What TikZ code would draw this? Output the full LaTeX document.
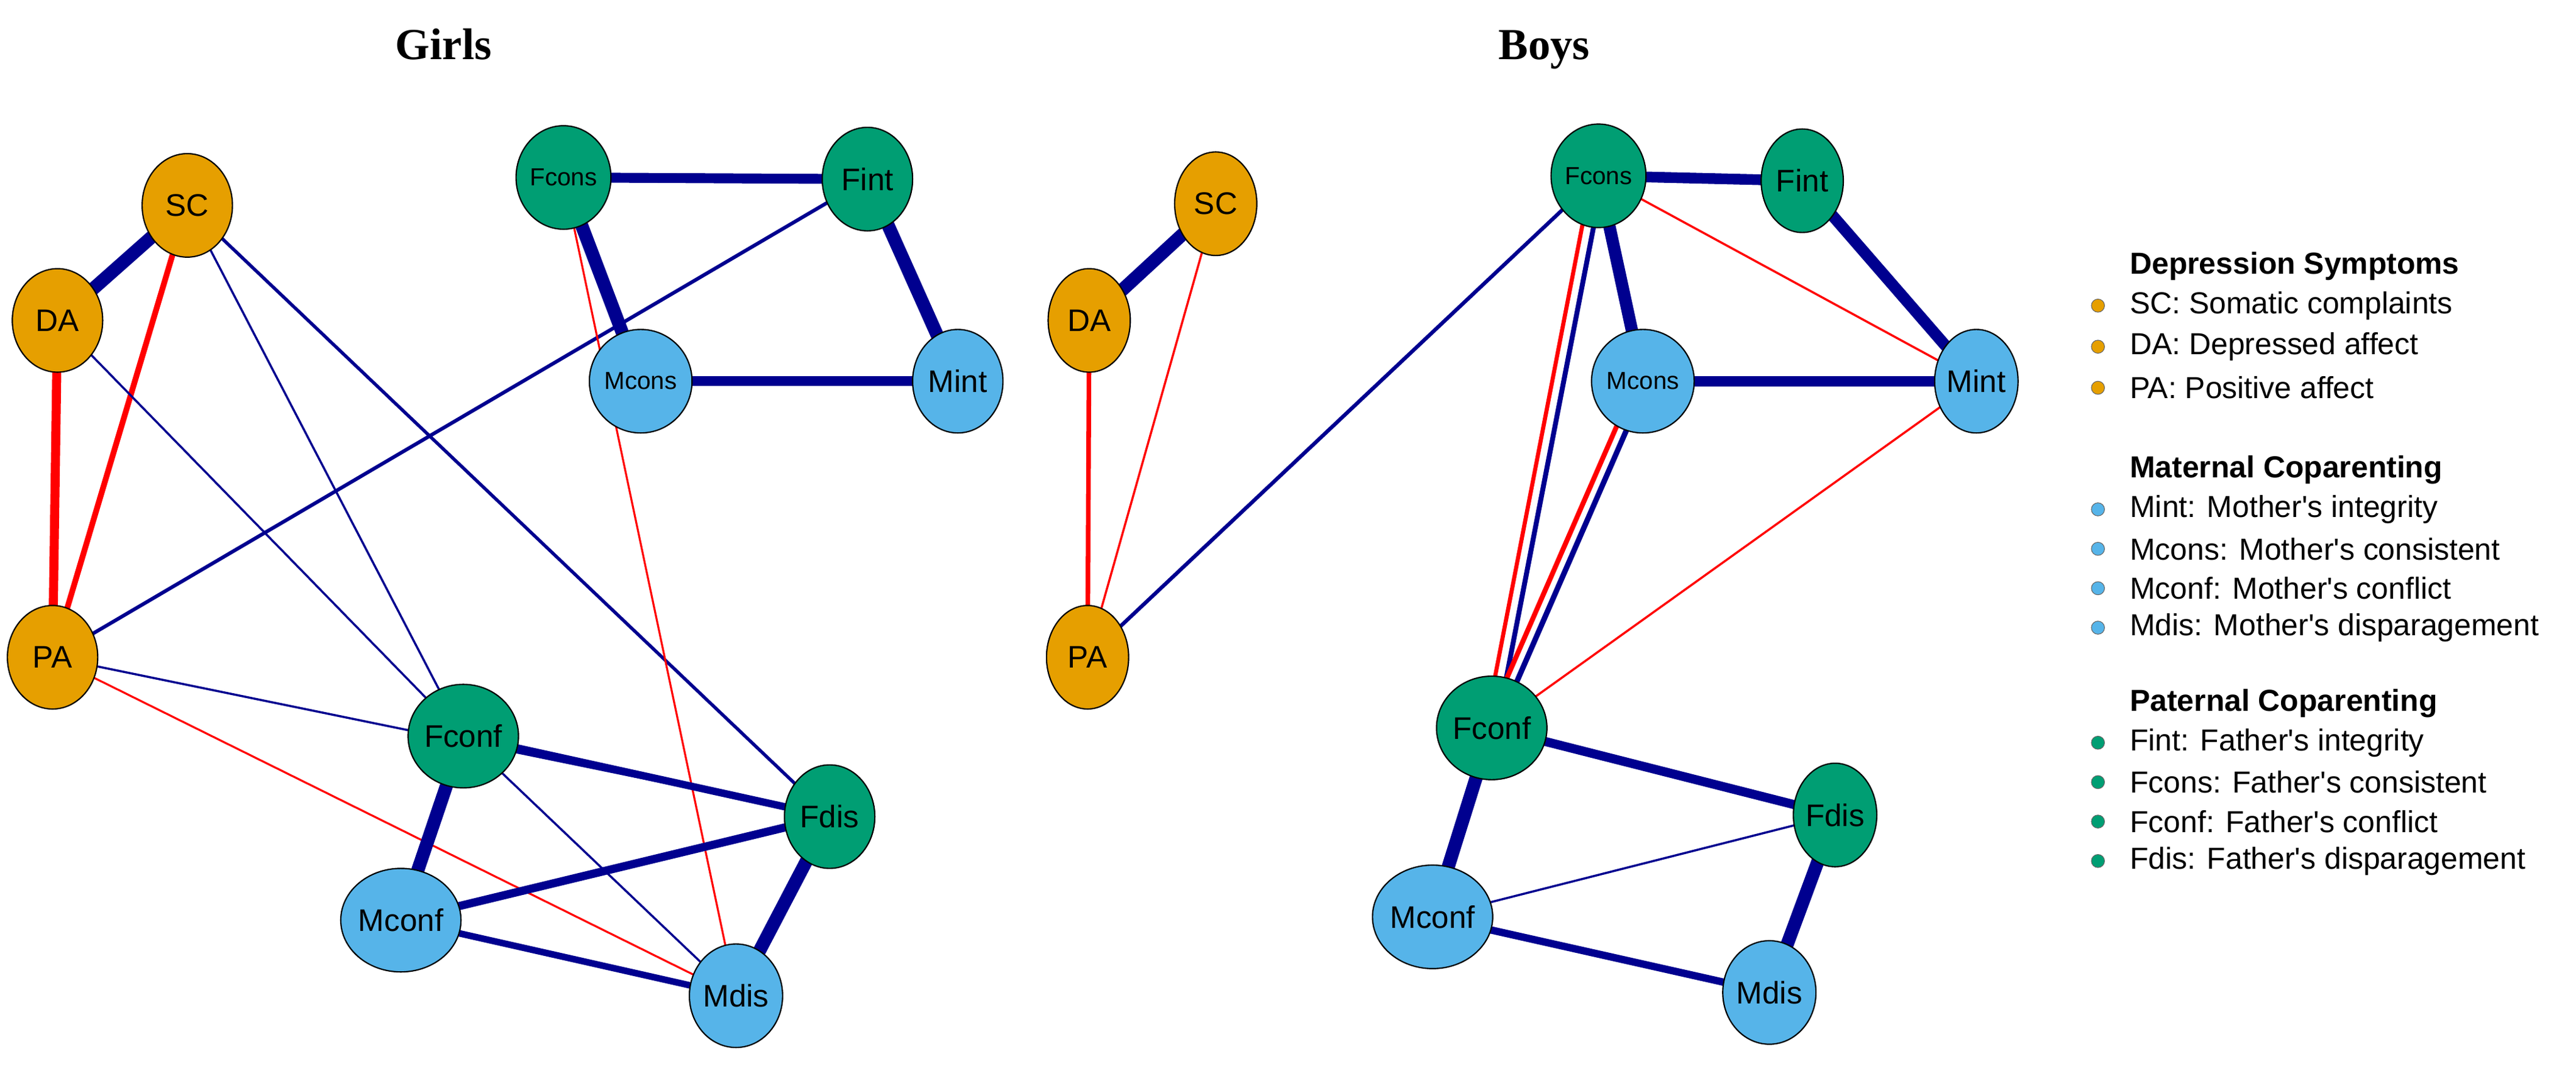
\documentclass[tikz,border=0pt]{standalone}
\usepackage{fontspec}
\setmainfont{Liberation Sans}
\newfontfamily\tms{Liberation Serif}
\usetikzlibrary{shapes.geometric}
\pgfdeclarelayer{bg}\pgfsetlayers{bg,main}
\definecolor{cor}{HTML}{E69F00}
\definecolor{cgr}{HTML}{009E73}
\definecolor{cbl}{HTML}{56B4E9}
\definecolor{cnv}{HTML}{00008F}
\definecolor{cre}{HTML}{FF0000}
\tikzset{
 nd/.style={ellipse,draw=black,line width=0.8pt,minimum width=55pt,minimum height=63pt,inner sep=0pt,font=\fontsize{19}{19}\selectfont},
 ndb/.style={nd,minimum width=50pt},
 sm/.style={font=\fontsize{15}{15}\selectfont},
 o/.style={fill=cor},g/.style={fill=cgr},b/.style={fill=cbl},
 p/.style={draw=cnv,line width=#1pt},
 n/.style={draw=cre,line width=#1pt},
 lg/.style={anchor=west,font=\fontsize{18.5}{18.5}\selectfont},
 lh/.style={anchor=west,font=\bfseries\fontsize{18.5}{18.5}\selectfont},
 dot/.style={circle,draw=black!60,line width=0.4pt,minimum size=8pt,inner sep=0pt},
 ttl/.style={anchor=base,font=\tms\bfseries\fontsize{27}{27}\selectfont}
}
\newcommand{\ap}{\textquotesingle}
\begin{document}
\begin{tikzpicture}[x=1pt,y=-1pt]
\useasboundingbox (0,0) rectangle (1568,653);
\node[ttl] (tg) at (270,36) {Girls};
\node[ttl] (tb) at (940,36) {Boys};
% Girls
\node[nd,o] (gSC) at (114,125) {SC};
\node[nd,o] (gDA) at (35,195) {DA};
\node[nd,o] (gPA) at (32,400) {PA};
\node[nd,g,sm] (gFcons) at (343,108) {Fcons};
\node[nd,g] (gFint) at (528,109) {Fint};
\node[nd,b,sm] (gMcons) at (390,232) {Mcons};
\node[nd,b] (gMint) at (583,232) {Mint};
\node[nd,g] (gFconf) at (282,448) {Fconf};
\node[nd,g] (gFdis) at (505,497) {Fdis};
\node[nd,b] (gMconf) at (244,560) {Mconf};
\node[nd,b] (gMdis) at (448,606) {Mdis};
% Boys
\node[ndb,o] (bSC) at (740,124) {SC};
\node[ndb,o] (bDA) at (663,195) {DA};
\node[ndb,o] (bPA) at (662,400) {PA};
\node[ndb,g,sm] (bFcons) at (973,107) {Fcons};
\node[ndb,g] (bFint) at (1097,110) {Fint};
\node[ndb,b,sm] (bMcons) at (1000,232) {Mcons};
\node[ndb,b] (bMint) at (1203,232) {Mint};
\node[ndb,g] (bFconf) at (908,443) {Fconf};
\node[ndb,g] (bFdis) at (1117,496) {Fdis};
\node[ndb,b] (bMconf) at (872,558) {Mconf};
\node[ndb,b] (bMdis) at (1077,604) {Mdis};
\begin{pgfonlayer}{bg}
\draw[p=8] (gSC.center) -- (gDA.center);
\draw[n=3.5] (gSC.center) -- (gPA.center);
\draw[n=5.5] (gDA.center) -- (gPA.center);
\draw[p=1.3] (gSC.center) -- (gFconf.center);
\draw[p=2] (gSC.center) -- (gFdis.center);
\draw[p=1.3] (gDA.center) -- (gFconf.center);
\draw[p=2.2] (gPA.center) -- (gFint.center);
\draw[p=1.3] (gPA.center) -- (gFdis.center);
\draw[n=1.2] (gPA.center) -- (gMdis.center);
\draw[p=6] (gFcons.center) -- (gFint.center);
\draw[p=8] (gFcons.center) -- (gMcons.center);
\draw[n=1.2] (gFcons.center) -- (gMdis.center);
\draw[p=8] (gFint.center) -- (gMint.center);
\draw[p=6] (gMcons.center) -- (gMint.center);
\draw[p=4.5] (gFconf.center) -- (gFdis.center);
\draw[p=8] (gFconf.center) -- (gMconf.center);
\draw[p=1.3] (gFconf.center) -- (gMdis.center);
\draw[p=5] (gMconf.center) -- (gFdis.center);
\draw[p=4] (gMconf.center) -- (gMdis.center);
\draw[p=8] (gFdis.center) -- (gMdis.center);
\draw[p=8] (bSC.center) -- (bDA.center);
\draw[n=1.3] (bSC.center) -- (bPA.center);
\draw[n=2.8] (bDA.center) -- (bPA.center);
\draw[p=2.3] (bPA.center) -- (bFcons.center);
\draw[p=6.5] (bFcons.center) -- (bFint.center);
\draw[p=7.5] (bFcons.center) -- (bMcons.center);
\draw[n=1.3] (bFcons.center) -- (bMint.center);
\draw[n=2.5] ([xshift=-4pt]bFcons.center) -- ([xshift=-4pt]bFconf.center);
\draw[p=3] ([xshift=3pt]bFcons.center) -- ([xshift=3pt]bFconf.center);
\draw[n=3] ([xshift=-4pt]bMcons.center) -- ([xshift=-4pt]bFconf.center);
\draw[p=3.3] ([xshift=3pt]bMcons.center) -- ([xshift=3pt]bFconf.center);
\draw[n=1.3] (bMint.center) -- (bFconf.center);
\draw[p=6.5] (bMcons.center) -- (bMint.center);
\draw[p=7] (bFint.center) -- (bMint.center);
\draw[p=5.5] (bFconf.center) -- (bFdis.center);
\draw[p=8] (bFconf.center) -- (bMconf.center);
\draw[p=1.3] (bMconf.center) -- (bFdis.center);
\draw[p=4.5] (bMconf.center) -- (bMdis.center);
\draw[p=8] (bFdis.center) -- (bMdis.center);
\end{pgfonlayer}
% legend
\node[lh] (h1) at (1293,162) {Depression Symptoms};
\node[dot,fill=cor] (d1) at (1277,186) {}; \node[lg] (l1) at (1293,186) {SC: Somatic complaints};
\node[dot,fill=cor] (d2) at (1277,211) {}; \node[lg] (l2) at (1293,211) {DA: Depressed affect};
\node[dot,fill=cor] (d3) at (1277,236) {}; \node[lg] (l3) at (1293,236) {PA: Positive affect};
\node[lh] (h2) at (1293,286) {Maternal Coparenting};
\node[dot,fill=cbl] (d4) at (1277,310) {}; \node[lg] (l4) at (1293,310) {Mint: Mother\ap s integrity};
\node[dot,fill=cbl] (d5) at (1277,334) {}; \node[lg] (l5) at (1293,334) {Mcons: Mother\ap s consistent};
\node[dot,fill=cbl] (d6) at (1277,358) {}; \node[lg] (l6) at (1293,358) {Mconf: Mother\ap s conflict};
\node[dot,fill=cbl] (d7) at (1277,382) {}; \node[lg] (l7) at (1293,382) {Mdis: Mother\ap s disparagement};
\node[lh] (h3) at (1293,428) {Paternal Coparenting};
\node[dot,fill=cgr] (d8) at (1277,452) {}; \node[lg] (l8) at (1293,452) {Fint: Father\ap s integrity};
\node[dot,fill=cgr] (d9) at (1277,476) {}; \node[lg] (l9) at (1293,476) {Fcons: Father\ap s consistent};
\node[dot,fill=cgr] (d10) at (1277,500) {}; \node[lg] (l10) at (1293,500) {Fconf: Father\ap s conflict};
\node[dot,fill=cgr] (d11) at (1277,524) {}; \node[lg] (l11) at (1293,524) {Fdis: Father\ap s disparagement};
\end{tikzpicture}
\end{document}
